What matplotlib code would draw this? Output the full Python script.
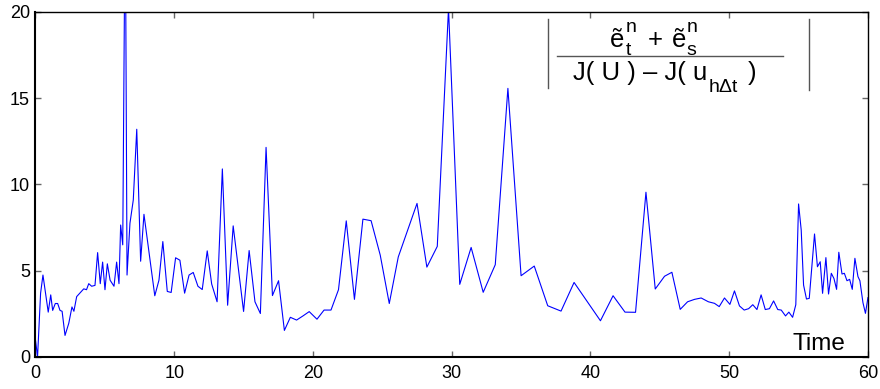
import matplotlib
matplotlib.use("Agg")
import matplotlib.pyplot as plt

plt.rcParams['font.family'] = ['Liberation Sans', 'DejaVu Sans']

# time samples and the ratio
time = [0.0, 0.15, 0.37, 0.54, 0.92, 1.1, 1.24, 1.43, 1.6, 1.77, 1.92, 2.13,
        2.4, 2.63, 2.77, 2.97, 3.2, 3.48, 3.68, 3.84, 4.05, 4.29, 4.48, 4.67,
        4.84, 5.01, 5.18, 5.38, 5.66, 5.85, 6.02, 6.14, 6.29, 6.47, 6.6, 6.81,
        7.05, 7.3, 7.58, 7.82, 8.6, 8.9, 9.18, 9.5, 9.78, 10.1, 10.41, 10.75,
        11.07, 11.37, 11.71, 12.02, 12.38, 12.7, 13.09, 13.47, 13.85, 14.25,
        15.0, 15.4, 15.82, 16.21, 16.62, 17.08, 17.52, 17.94, 18.37, 18.82,
        19.28, 19.73, 20.29, 20.8, 21.3, 21.84, 22.4, 22.99, 23.6, 24.19,
        24.85, 25.5, 26.15, 27.5, 28.21, 28.96, 29.77, 30.58, 31.4, 32.27,
        33.14, 34.05, 35.0, 35.95, 36.92, 37.88, 38.82, 40.72, 41.63, 42.49,
        43.25, 44.0, 44.67, 45.34, 45.87, 46.47, 47.0, 47.5, 47.98, 48.5,
        48.94, 49.28, 49.66, 50.05, 50.38, 50.74, 51.08, 51.4, 51.7, 52.0,
        52.3, 52.6, 52.9, 53.2, 53.5, 53.75, 54.06, 54.3, 54.57, 54.8, 55.0,
        55.19, 55.36, 55.57, 55.77, 56.15, 56.36, 56.56, 56.73, 56.97, 57.16,
        57.36, 57.55, 57.74, 57.9, 58.13, 58.3, 58.49, 58.68, 58.87, 59.06,
        59.28, 59.42, 59.64, 59.82, 60.0]
ratio = [1.0, 0.0, 3.7, 4.75, 2.6, 3.6, 2.7, 3.1, 3.1, 2.7, 2.65, 1.25,
         1.95, 2.9, 2.65, 3.5, 3.7, 3.95, 3.9, 4.25, 4.1, 4.15, 6.05, 4.25,
         5.5, 3.9, 5.4, 4.45, 4.1, 5.5, 4.25, 7.65, 6.5, 27.0, 4.75, 7.75,
         9.1, 13.2, 5.55, 8.27, 3.55, 4.45, 6.69, 3.8, 3.74, 5.75, 5.61, 3.7,
         4.75, 4.9, 4.1, 3.91, 6.15, 4.23, 3.2, 10.9, 3.0, 7.6,
         2.64, 6.17, 3.2, 2.52, 12.15, 3.56, 4.42, 1.54, 2.3, 2.14,
         2.38, 2.63, 2.19, 2.72, 2.72, 3.9, 7.89, 3.34, 7.99, 7.9,
         5.9, 3.1, 5.8, 8.9, 5.21, 6.41, 20.2, 4.21, 6.35, 3.75,
         5.35, 15.57, 4.71, 5.27, 2.97, 2.66, 4.32, 2.1, 3.55, 2.6,
         2.59, 9.55, 3.94, 4.68, 4.91, 2.76, 3.2, 3.34, 3.42, 3.2,
         3.11, 2.92, 3.42, 3.05, 3.83, 2.96, 2.72, 2.8, 3.03, 2.75,
         3.6, 2.75, 2.8, 3.25, 2.75, 2.72, 2.38, 2.6, 2.3, 3.03, 8.87,
         7.36, 4.17, 3.36, 3.4, 7.13, 5.23, 5.52, 3.69, 5.76, 3.65,
         4.85, 4.55, 3.92, 6.07, 4.81, 4.85, 4.42, 4.5, 3.92, 5.72,
         4.66, 4.42, 3.15, 2.53, 3.44]

x_ticks = [0, 10, 20, 30, 40, 50, 60]
y_ticks = [0, 5, 10, 15, 20]

fig = plt.figure(figsize=(8.8, 3.89), dpi=100)
ax = fig.add_axes([0.0403, 0.0823, 0.946, 0.887])

ax.plot(time, ratio, color='#0000ff', linewidth=0.8)

ax.set_xlim(0, 60)
ax.set_ylim(0, 20)
ax.set_xticks(x_ticks)
ax.set_yticks(y_ticks)
ax.tick_params(direction='in', length=4.5, width=1.0, color='#666666',
               top=True, right=True, labelsize=13, pad=4)
ax.tick_params(axis='x', pad=6)
for side in ['left', 'bottom']:
    ax.spines[side].set_linewidth(1.5)
for side in ['top', 'right']:
    ax.spines[side].set_linewidth(1.0)

ax.text(58.4, 0.4, 'Time', fontsize=17.5, ha='right', va='baseline')

# |(e_t + e_s) / (J(U) - J(u_hdt))| label, built piece by piece
big, small = 18.5, 14
tr = ax.transAxes
ax.text(0.690, 0.8986, 'ẽ', transform=tr, fontsize=big, va='baseline')
ax.text(0.7085, 0.942, 'n', transform=tr, fontsize=small, va='baseline')
ax.text(0.7085, 0.8754, 't', transform=tr, fontsize=small, va='baseline')
ax.text(0.744, 0.8986, '+', transform=tr, fontsize=big, va='baseline',
        ha='center')
ax.text(0.764, 0.8986, 'ẽ', transform=tr, fontsize=big, va='baseline')
ax.text(0.7825, 0.942, 'n', transform=tr, fontsize=small, va='baseline')
ax.text(0.7825, 0.8754, 's', transform=tr, fontsize=small, va='baseline')
ax.plot([0.626, 0.898], [0.872, 0.872], transform=tr,
        color='#555555', linewidth=1.0, clip_on=False)
ax.text(0.6456, 0.8029, 'J( U ) – J( u', transform=tr, fontsize=big,
        va='baseline')
ax.text(0.809, 0.7681, 'hΔt', transform=tr, fontsize=small, va='baseline')
ax.text(0.8559, 0.8029, ')', transform=tr, fontsize=big, va='baseline')
ax.plot([0.6156, 0.6156], [0.780, 0.980], transform=tr,
        color='#555555', linewidth=1.0, clip_on=False)
ax.plot([0.929, 0.929], [0.774, 0.980], transform=tr,
        color='#555555', linewidth=1.0, clip_on=False)

fig.savefig('out.png', dpi=100)
